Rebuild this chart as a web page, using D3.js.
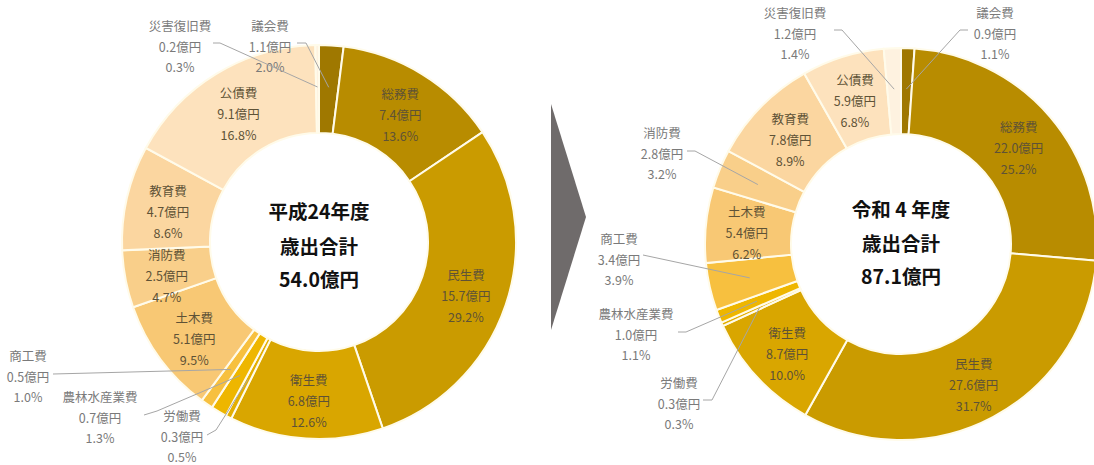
<!DOCTYPE html>
<html>
<head>
<meta charset="utf-8">
<script src="https://cdn.jsdelivr.net/npm/d3@7"></script>
<style>
  html, body { margin: 0; padding: 0; background: #fff; }
  svg { display: block; }
  text { font-family: "Noto Sans CJK JP", "Noto Sans", sans-serif; }
</style>
</head>
<body>
<svg id="chart" width="1094" height="465"></svg>
<script>
// ---------- data ----------
const categories = ["議会費","総務費","民生費","衛生費","労働費","農林水産業費","商工費","土木費","消防費","教育費","公債費","災害復旧費"];
const amountsH24 = [1.1, 7.4, 15.7, 6.8, 0.3, 0.7, 0.5, 5.1, 2.5, 4.7, 9.1, 0.2];
const sharesH24  = [2.0, 13.6, 29.2, 12.6, 0.5, 1.3, 1.0, 9.5, 4.7, 8.6, 16.8, 0.3];
const amountsR4  = [0.9, 22.0, 27.6, 8.7, 0.3, 1.0, 3.4, 5.4, 2.8, 7.8, 5.9, 1.2];
const sharesR4   = [1.1, 25.2, 31.7, 10.0, 0.3, 1.1, 3.9, 6.2, 3.2, 8.9, 6.8, 1.4];
const centerTitles = [["平成24年度","歳出合計","54.0億円"], ["令和 4 年度","歳出合計","87.1億円"]];

// ---------- styles ----------
const palette = ["#9f7800","#b88c00","#ca9b00","#d9a600","#e3ae00","#eeb600","#f7c03f","#f8c874","#f9cf8a","#fbd6a0","#fde2bd","#fef2e0"];
const color = d3.scaleOrdinal().domain(categories).range(palette);

// ---------- layout ----------
const layouts = [
  { cx: 319, cy: 242, outer: 197, inner: 109, titleY: [210, 245, 278],
    outside: {
      "災害復旧費":   { x: 180, y: 25,  pts: [[213,43],[220,43]] },
      "議会費":       { x: 270, y: 25,  pts: [[297,43],[306,43]] },
      "商工費":       { x: 28,  y: 355, pts: [[53,374]] },
      "農林水産業費": { x: 100, y: 396, pts: [[144,415],[157,411]] },
      "労働費":       { x: 182, y: 415, pts: [[207,435],[216,430]] }
    } },
  { cx: 901, cy: 244, outer: 196, inner: 110, titleY: [208, 242, 275],
    outside: {
      "災害復旧費":   { x: 795, y: 12,  pts: [[834,30],[842,30]] },
      "議会費":       { x: 995, y: 12,  pts: [[968,30],[960,30]] },
      "消防費":       { x: 662, y: 132, pts: [[687,151],[695,151]] },
      "商工費":       { x: 619, y: 238, pts: [[643,255]] },
      "農林水産業費": { x: 636, y: 313, pts: [[678,332],[686,332]] },
      "労働費":       { x: 679, y: 382, pts: [[703,400],[712,400]] }
    } }
];
const datasets = [
  categories.map((c, i) => ({ cat: c, amount: amountsH24[i], share: sharesH24[i] })),
  categories.map((c, i) => ({ cat: c, amount: amountsR4[i],  share: sharesR4[i] }))
];

const svg = d3.select("#chart");
svg.append("rect").attr("width", 1094).attr("height", 465).attr("fill", "#fff");

const pie = d3.pie().sort(null).value(d => d.share);
const lineGap = 21;
const labelSize = 12.5;

datasets.forEach((data, k) => {
  const L = layouts[k];
  const g = svg.append("g").attr("transform", `translate(${L.cx},${L.cy})`);
  const arc = d3.arc().innerRadius(L.inner).outerRadius(L.outer);
  const labelArc = d3.arc().innerRadius(155).outerRadius(155);
  const arcs = pie(data);

  g.selectAll("path.slice").data(arcs).enter().append("path")
    .attr("class", "slice")
    .attr("d", arc)
    .attr("fill", d => color(d.data.cat))
    .attr("stroke", "#fffbea")
    .attr("stroke-width", 2);

  // leader lines + outside labels
  arcs.forEach(a => {
    const o = L.outside[a.data.cat];
    const lines = [a.data.cat, a.data.amount.toFixed(1) + "億円", a.data.share.toFixed(1) + "%"];
    if (o) {
      const c = labelArc.centroid(a);
      const pts = o.pts.map(p => [p[0], p[1]]).concat([[c[0] + L.cx, c[1] + L.cy]]);
      svg.append("path")
        .attr("d", d3.line()(pts))
        .attr("fill", "none")
        .attr("stroke", "#a6a6a6")
        .attr("stroke-width", 1);
      lines.forEach((t, j) => {
        svg.append("text")
          .attr("x", o.x).attr("y", o.y + j * lineGap - (j === 2 ? 1 : 0))
          .attr("text-anchor", "middle")
          .attr("dominant-baseline", "central")
          .attr("font-size", labelSize)
          .attr("fill", "#7a7a7a")
          .text(t);
      });
    } else {
      const c = labelArc.centroid(a);
      lines.forEach((t, j) => {
        g.append("text")
          .attr("x", c[0]).attr("y", c[1] + 4 + (j - 1) * lineGap)
          .attr("text-anchor", "middle")
          .attr("dominant-baseline", "central")
          .attr("font-size", labelSize)
          .attr("fill", "#5e5236")
          .text(t);
      });
    }
  });

  // center title
  centerTitles[k].forEach((t, j) => {
    svg.append("text")
      .attr("x", L.cx).attr("y", L.titleY[j])
      .attr("text-anchor", "middle")
      .attr("dominant-baseline", "central")
      .attr("font-size", 19.5)
      .attr("font-weight", "bold")
      .attr("fill", "#111")
      .text(t);
  });
});

// arrow between the two charts
svg.append("path")
  .attr("d", d3.line()([[551,104],[586,217],[551,330]]) + "Z")
  .attr("fill", "#6f6b6b");
</script>
</body>
</html>
